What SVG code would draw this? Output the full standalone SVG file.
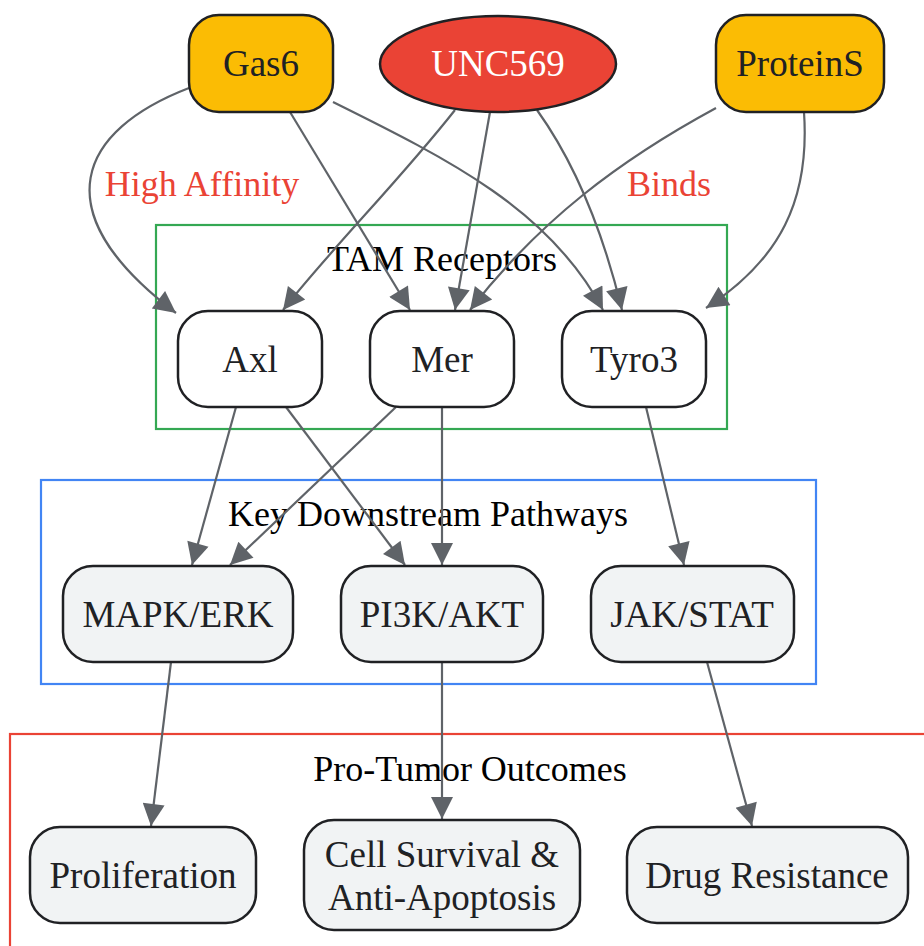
<svg xmlns="http://www.w3.org/2000/svg" width="924" height="946" viewBox="0 0 924 946">
<style>
text{font-family:"Liberation Serif","Times New Roman",serif;font-size:37px;text-anchor:middle;fill:#202124}
.ct{fill:#000000;font-size:36px}
.lbl{fill:#EA4335;font-size:36px}
.nd{stroke:#202124;stroke-width:2.5}
.y{fill:#FBBC04}
.w{fill:#FFFFFF}
.g{fill:#F1F3F4}
.e{fill:none;stroke:#5F6368;stroke-width:2.2;marker-end:url(#ah)}
.cl{fill:none;stroke-width:2.2}
</style>
<defs>
<marker id="ah" viewBox="0 0 10 10" refX="10" refY="5" markerWidth="29" markerHeight="22" markerUnits="userSpaceOnUse" orient="auto">
<path d="M0,0 L10,5 L0,10 z" fill="#5F6368"/>
</marker>
</defs>
<rect width="924" height="946" fill="#FFFFFF"/>
<g id="clusters">
<g id="cluster-tam"><rect class="cl" x="156" y="225" width="571" height="204" stroke="#34A853"/><text class="ct" x="442" y="271">TAM Receptors</text></g>
<g id="cluster-path"><rect class="cl" x="41" y="480" width="775" height="204" stroke="#4285F4"/><text class="ct" x="428" y="526">Key Downstream Pathways</text></g>
<g id="cluster-out"><rect class="cl" x="10" y="734" width="930" height="230" stroke="#EA4335"/><text class="ct" x="470" y="781">Pro-Tumor Outcomes</text></g>
</g>
<g id="connectors">
<path class="e" d="M189,88 C80,130 40,210 176,313"/>
<path class="e" d="M290,112 L410,310"/>
<path class="e" d="M333,102 C450,160 550,210 603,310"/>
<path class="e" d="M455,110 C400,180 330,250 283,310"/>
<path class="e" d="M490,112 L455,310"/>
<path class="e" d="M537,110 C580,170 605,240 622,310"/>
<path class="e" d="M716,108 C620,160 540,220 470,310"/>
<path class="e" d="M804,112 C810,200 780,260 706,308"/>
<path class="e" d="M236,407 L192,565"/>
<path class="e" d="M286,407 L405,565"/>
<path class="e" d="M396,407 L230,565"/>
<path class="e" d="M442,407 L442,565"/>
<path class="e" d="M646,407 L684,565"/>
<path class="e" d="M171,662 L151,826"/>
<path class="e" d="M442,662 L442,819"/>
<path class="e" d="M707,662 L752,826"/>
<text class="lbl" x="202" y="196">High Affinity</text>
<text class="lbl" x="669" y="196">Binds</text>
</g>
<g id="node-gas6"><rect class="nd y" x="189" y="15" width="144" height="97" rx="30"/><text x="261" y="76">Gas6</text></g>
<g id="node-unc569"><ellipse class="nd" fill="#EA4335" cx="498" cy="64" rx="118" ry="48"/><text x="498" y="76" style="fill:#FFFFFF">UNC569</text></g>
<g id="node-proteins"><rect class="nd y" x="716" y="15" width="168" height="97" rx="30"/><text x="800" y="76">ProteinS</text></g>
<g id="node-axl"><rect class="nd w" x="178" y="311" width="144" height="96" rx="30"/><text x="250" y="372">Axl</text></g>
<g id="node-mer"><rect class="nd w" x="370" y="311" width="144" height="96" rx="30"/><text x="442" y="372">Mer</text></g>
<g id="node-tyro3"><rect class="nd w" x="562" y="311" width="144" height="96" rx="30"/><text x="634" y="372">Tyro3</text></g>
<g id="node-mapk"><rect class="nd g" x="63" y="566" width="230" height="96" rx="30"/><text x="178" y="627">MAPK/ERK</text></g>
<g id="node-pi3k"><rect class="nd g" x="341" y="566" width="202" height="96" rx="30"/><text x="442" y="627">PI3K/AKT</text></g>
<g id="node-jak"><rect class="nd g" x="591" y="566" width="203" height="96" rx="30"/><text x="692" y="627">JAK/STAT</text></g>
<g id="node-prolif"><rect class="nd g" x="30" y="827" width="226" height="96" rx="30"/><text x="143" y="888">Proliferation</text></g>
<g id="node-survival"><rect class="nd g" x="304" y="820" width="276" height="110" rx="30"/><text x="442" y="867">Cell Survival &amp;</text><text x="442" y="910">Anti-Apoptosis</text></g>
<g id="node-drug"><rect class="nd g" x="627" y="827" width="281" height="96" rx="30"/><text x="767" y="888">Drug Resistance</text></g>
</svg>
